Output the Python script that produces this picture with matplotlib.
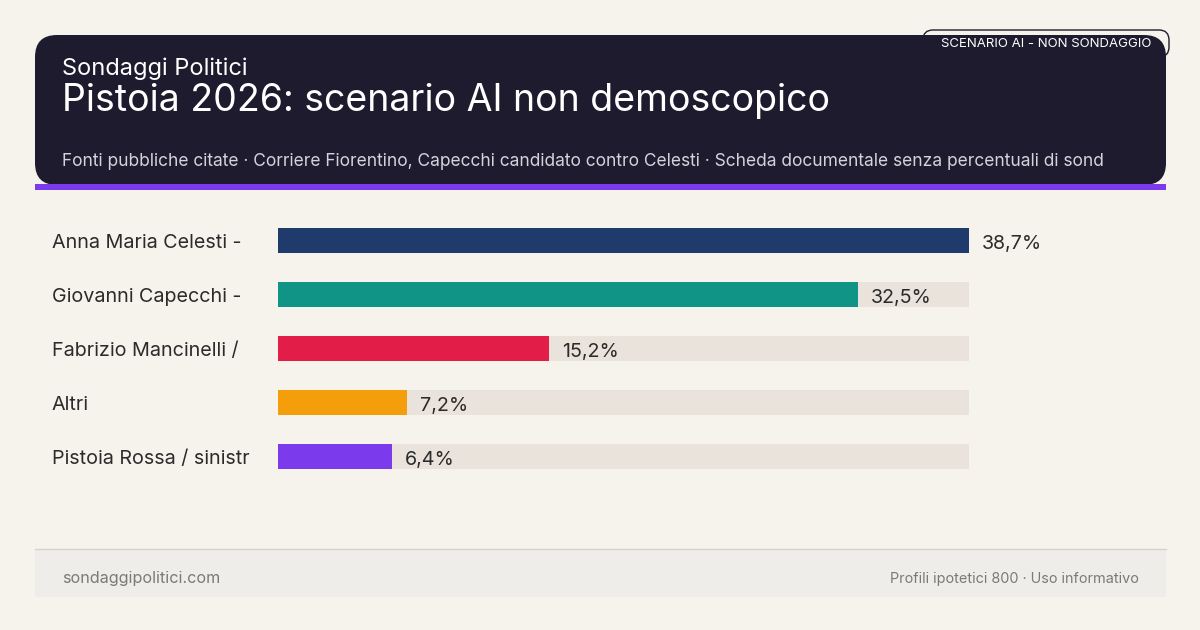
import matplotlib.pyplot as plt
from matplotlib.patches import FancyBboxPatch, Rectangle

plt.rcParams['font.family'] = ['Inter', 'DejaVu Sans']

candidates = ['Anna Maria Celesti -', 'Giovanni Capecchi -', 'Fabrizio Mancinelli /',
              'Altri', 'Pistoia Rossa / sinistr']
values = [38.7, 32.5, 15.2, 7.2, 6.4]
colors = ['#1f3b6c', '#109486', '#e11d48', '#f59e0b', '#7c3aed']
value_labels = ['38,7%', '32,5%', '15,2%', '7,2%', '6,4%']

W, H = 1200, 630
bg = '#f6f3ec'
dark = '#1e1b2e'

fig = plt.figure(figsize=(12, 6.3), dpi=100, facecolor=bg)

# decoration layer in pixel coords
deco = fig.add_axes([0, 0, 1, 1])
deco.set_xlim(0, W)
deco.set_ylim(H, 0)
deco.axis('off')

deco.add_patch(FancyBboxPatch((35, 35), 1131, 150, boxstyle='round,pad=0,rounding_size=22',
                              facecolor=dark, edgecolor='none'))
deco.add_patch(Rectangle((35, 184), 1131, 6, facecolor='#7c3aed', edgecolor='none'))

deco.add_patch(FancyBboxPatch((923, 30), 246, 27, boxstyle='round,pad=0,rounding_size=10',
                              facecolor='none', edgecolor=dark, linewidth=1))
deco.text(1046, 44, 'SCENARIO AI - NON SONDAGGIO', color='white', fontsize=9.5,
          ha='center', va='center')

deco.text(62, 69, 'Sondaggi Politici', color='white', fontsize=17, va='center')
deco.text(62, 101, 'Pistoia 2026: scenario AI non demoscopico', color='white',
          fontsize=27, va='center')
deco.text(62, 161, 'Fonti pubbliche citate · Corriere Fiorentino, Capecchi candidato contro Celesti'
          ' · Scheda documentale senza percentuali di sond', color='#d4d3dc',
          fontsize=12.5, va='center')

# footer
deco.plot([35, 1166], [548.5, 548.5], color='#d6d3cc', linewidth=1)
deco.add_patch(Rectangle((35, 549), 1131, 48, facecolor='#eeede9', edgecolor='none'))
deco.text(62, 579, 'sondaggipolitici.com', color='#7a7a7a', fontsize=11.6, va='center')
deco.text(1139, 579, 'Profili ipotetici 800 · Uso informativo', color='#7a7a7a',
          fontsize=10.4, va='center', ha='right')

# bars
ax = fig.add_axes([278 / W, 1 - 483.5 / H, 691 / W, 270 / H])
ax.set_facecolor('none')
ax.set_xlim(0, max(values))
ax.set_ylim(len(values) - 0.5, -0.5)
ax.axis('off')
ypos = range(len(values))
ax.barh(ypos, [max(values)] * len(values), height=25 / 54, color='#e9e3dc')
ax.barh(ypos, values, height=25 / 54, color=colors)
for i, (v, lab, name) in enumerate(zip(values, value_labels, candidates)):
    ax.annotate(lab, (v, i), xytext=(13, -3), textcoords='offset pixels',
                fontsize=14.2, color='#2b2b2b', va='center', ha='left')
    ax.annotate(name, (0, i), xycoords=('axes fraction', 'data'), xytext=(-226, -3),
                textcoords='offset pixels', fontsize=14.2, color='#2b2b2b',
                va='center', ha='left')

fig.savefig('out.png', dpi=100, facecolor=bg)
